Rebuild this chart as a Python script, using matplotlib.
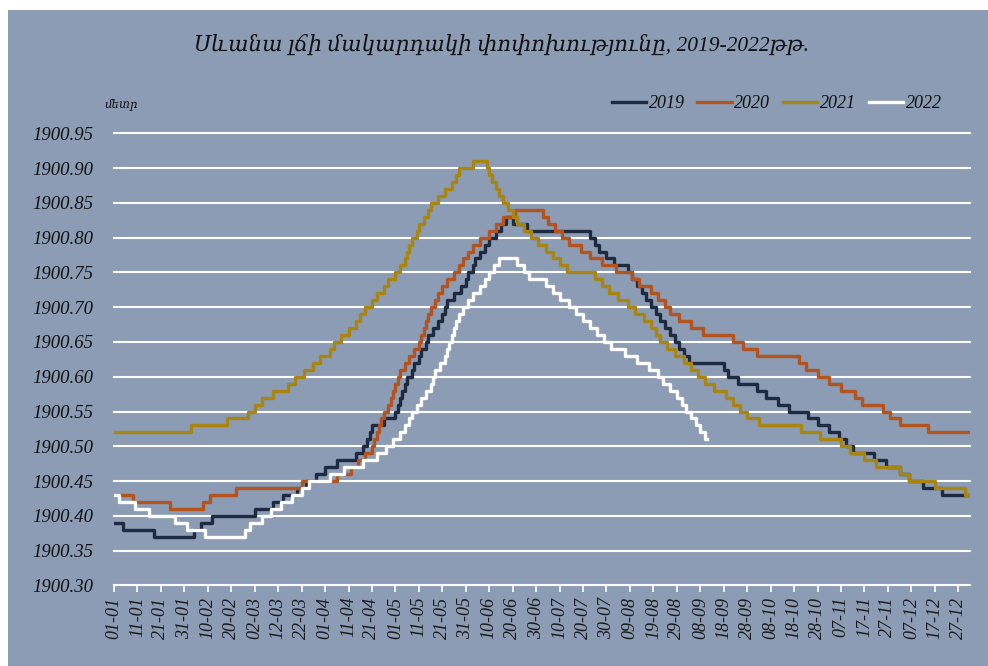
import matplotlib
matplotlib.use('Agg')
import matplotlib.pyplot as plt
from matplotlib.patches import Rectangle

# ---------------- data (change points, step series) ----------------
days_2019 = [0, 4, 17, 34, 37, 42, 60, 68, 72, 78, 82, 86, 90, 95, 103, 106, 108, 109, 110, 115,
             120, 121, 122, 123, 124, 125, 127, 128, 130, 131, 133, 134, 136, 138, 140, 141, 142, 145,
             148, 150, 151, 153, 154, 156, 158, 160, 163, 165, 167, 170, 176, 203, 205, 207, 210, 213,
             219, 221, 223, 225, 227, 229, 231, 233, 235, 237, 239, 241, 243, 245, 260, 262, 266, 274,
             278, 283, 288, 296, 300, 305, 309, 312, 315, 324, 329, 335, 339, 345, 353, 364]
vals_2019 = [1900.39, 1900.38, 1900.37, 1900.38, 1900.39, 1900.40, 1900.41, 1900.42, 1900.43, 1900.44,
             1900.45, 1900.46, 1900.47, 1900.48, 1900.49, 1900.50, 1900.51, 1900.52, 1900.53, 1900.54,
             1900.55, 1900.56, 1900.57, 1900.58, 1900.59, 1900.60, 1900.61, 1900.62, 1900.63, 1900.64,
             1900.65, 1900.66, 1900.67, 1900.68, 1900.69, 1900.70, 1900.71, 1900.72, 1900.73, 1900.74,
             1900.75, 1900.76, 1900.77, 1900.78, 1900.79, 1900.80, 1900.81, 1900.82, 1900.83, 1900.82,
             1900.81, 1900.80, 1900.79, 1900.78, 1900.77, 1900.76, 1900.75, 1900.74, 1900.73, 1900.72,
             1900.71, 1900.70, 1900.69, 1900.68, 1900.67, 1900.66, 1900.65, 1900.64, 1900.63, 1900.62,
             1900.61, 1900.60, 1900.59, 1900.58, 1900.57, 1900.56, 1900.55, 1900.54, 1900.53, 1900.52,
             1900.51, 1900.50, 1900.49, 1900.48, 1900.47, 1900.46, 1900.45, 1900.44, 1900.43, 1900.43]

days_2020 = [0, 8, 24, 38, 41, 52, 80, 95, 101, 104, 107, 110, 111, 112, 113, 114, 115, 117, 118, 119,
             120, 121, 122, 124, 126, 128, 130, 131, 132, 133, 134, 135, 137, 138, 140, 142, 145, 147,
             149, 151, 153, 156, 160, 163, 166, 171, 183, 185, 188, 191, 194, 199, 203, 208, 214, 221,
             224, 229, 232, 235, 237, 241, 246, 251, 264, 268, 274, 292, 295, 300, 305, 310, 316, 319,
             328, 331, 335, 347, 364]
vals_2020 = [1900.43, 1900.42, 1900.41, 1900.42, 1900.43, 1900.44, 1900.45, 1900.46, 1900.47, 1900.48,
             1900.49, 1900.50, 1900.51, 1900.52, 1900.53, 1900.54, 1900.55, 1900.56, 1900.57, 1900.58,
             1900.59, 1900.60, 1900.61, 1900.62, 1900.63, 1900.64, 1900.65, 1900.66, 1900.67, 1900.68,
             1900.69, 1900.70, 1900.71, 1900.72, 1900.73, 1900.74, 1900.75, 1900.76, 1900.77, 1900.78,
             1900.79, 1900.80, 1900.81, 1900.82, 1900.83, 1900.84, 1900.83, 1900.82, 1900.81, 1900.80,
             1900.79, 1900.78, 1900.77, 1900.76, 1900.75, 1900.74, 1900.73, 1900.72, 1900.71, 1900.70,
             1900.69, 1900.68, 1900.67, 1900.66, 1900.65, 1900.64, 1900.63, 1900.62, 1900.61, 1900.60,
             1900.59, 1900.58, 1900.57, 1900.56, 1900.55, 1900.54, 1900.53, 1900.52, 1900.52]

days_2021 = [0, 33, 48, 57, 60, 63, 68, 74, 77, 81, 85, 88, 92, 94, 97, 100, 103, 105, 107, 110, 112,
             115, 117, 120, 122, 124, 125, 126, 127, 129, 130, 132, 134, 135, 138, 141, 144, 146, 147,
             153, 159, 160, 161, 163, 164, 166, 168, 170, 172, 175, 178, 181, 184, 187, 190, 193, 205,
             208, 211, 215, 219, 222, 226, 229, 231, 233, 236, 239, 243, 246, 249, 252, 256, 261, 264,
             267, 270, 275, 293, 301, 310, 314, 320, 325, 335, 339, 350, 363, 364]
vals_2021 = [1900.52, 1900.53, 1900.54, 1900.55, 1900.56, 1900.57, 1900.58, 1900.59, 1900.60, 1900.61,
             1900.62, 1900.63, 1900.64, 1900.65, 1900.66, 1900.67, 1900.68, 1900.69, 1900.70, 1900.71,
             1900.72, 1900.73, 1900.74, 1900.75, 1900.76, 1900.77, 1900.78, 1900.79, 1900.80, 1900.81,
             1900.82, 1900.83, 1900.84, 1900.85, 1900.86, 1900.87, 1900.88, 1900.89, 1900.90, 1900.91,
             1900.90, 1900.89, 1900.88, 1900.87, 1900.86, 1900.85, 1900.84, 1900.83, 1900.82, 1900.81,
             1900.80, 1900.79, 1900.78, 1900.77, 1900.76, 1900.75, 1900.74, 1900.73, 1900.72, 1900.71,
             1900.70, 1900.69, 1900.68, 1900.67, 1900.66, 1900.65, 1900.64, 1900.63, 1900.62, 1900.61,
             1900.60, 1900.59, 1900.58, 1900.57, 1900.56, 1900.55, 1900.54, 1900.53, 1900.52, 1900.51,
             1900.50, 1900.49, 1900.48, 1900.47, 1900.46, 1900.45, 1900.44, 1900.43, 1900.43]

days_2022 = [0, 2, 9, 15, 26, 31, 39, 56, 58, 63, 67, 71, 76, 80, 83, 92, 98, 106, 112, 116, 119, 122,
             124, 126, 127, 129, 131, 133, 135, 136, 137, 139, 141, 142, 143, 144, 145, 146, 147, 149,
             151, 153, 156, 158, 160, 162, 164, 172, 175, 177, 184, 187, 190, 194, 197, 200, 203, 206,
             209, 212, 218, 223, 228, 232, 234, 237, 240, 242, 244, 246, 248, 250, 252, 253]
vals_2022 = [1900.43, 1900.42, 1900.41, 1900.40, 1900.39, 1900.38, 1900.37, 1900.38, 1900.39, 1900.40,
             1900.41, 1900.42, 1900.43, 1900.44, 1900.45, 1900.46, 1900.47, 1900.48, 1900.49, 1900.50,
             1900.51, 1900.52, 1900.53, 1900.54, 1900.55, 1900.56, 1900.57, 1900.58, 1900.59, 1900.60,
             1900.61, 1900.62, 1900.63, 1900.64, 1900.65, 1900.66, 1900.67, 1900.68, 1900.69, 1900.70,
             1900.71, 1900.72, 1900.73, 1900.74, 1900.75, 1900.76, 1900.77, 1900.76, 1900.75, 1900.74,
             1900.73, 1900.72, 1900.71, 1900.70, 1900.69, 1900.68, 1900.67, 1900.66, 1900.65, 1900.64,
             1900.63, 1900.62, 1900.61, 1900.60, 1900.59, 1900.58, 1900.57, 1900.56, 1900.55, 1900.54,
             1900.53, 1900.52, 1900.51, 1900.51]

series_names = ['2019', '2020', '2021', '2022']
x_tick_days = list(range(0, 361, 10))
x_tick_labels = ['01-01', '11-01', '21-01', '31-01', '10-02', '20-02', '02-03', '12-03', '22-03',
                 '01-04', '11-04', '21-04', '01-05', '11-05', '21-05', '31-05', '10-06', '20-06',
                 '30-06', '10-07', '20-07', '30-07', '09-08', '19-08', '29-08', '08-09', '18-09',
                 '28-09', '08-10', '18-10', '28-10', '07-11', '17-11', '27-11', '07-12', '17-12',
                 '27-12']
y_ticks = [1900.30, 1900.35, 1900.40, 1900.45, 1900.50, 1900.55, 1900.60, 1900.65,
           1900.70, 1900.75, 1900.80, 1900.85, 1900.90, 1900.95]

title_text = 'Սևանա լճի մակարդակի փոփոխությունը, 2019-2022թթ.'
unit_text = 'մետր'

# ---------------- styling ----------------
BG = '#8b9cb4'
colors = ['#1e2a3f', '#b4531d', '#a88510', '#ffffff']
FONT = ['Liberation Serif', 'DejaVu Serif']

W, H = 988, 666
fig = plt.figure(figsize=(W / 100, H / 100), dpi=100)
fig.patch.set_facecolor('white')
fig.add_artist(Rectangle((8 / W, 0), 1 - 8 / W, 1 - 10 / H, transform=fig.transFigure,
                         facecolor=BG, edgecolor='none', zorder=0))

ax_l, ax_r = 114 / W, 970 / W
ax_b, ax_t = 1 - 585.4 / H, 1 - 133.3 / H
ax = fig.add_axes([ax_l, ax_b, ax_r - ax_l, ax_t - ax_b])
ax.set_facecolor('none')

series = [(days_2019, vals_2019), (days_2020, vals_2020), (days_2021, vals_2021), (days_2022, vals_2022)]
for (d, v), name, c in zip(series, series_names, colors):
    ax.step(d, v, where='post', color=c, lw=2.4, label=name, zorder=3)

ax.set_xlim(0, 365)
ax.set_ylim(1900.30, 1900.95)
ax.set_yticks(y_ticks)
ax.set_yticklabels([f'{t:.2f}' for t in y_ticks], family=FONT, style='italic', fontsize=13.5,
                   color='#111111')
ax.set_xticks(x_tick_days)
ax.set_xticklabels(x_tick_labels, rotation=90, family=FONT, style='italic', fontsize=13,
                   color='#1a1a1a')
ax.tick_params(axis='y', length=0, pad=15)
ax.tick_params(axis='x', length=5, width=1.2, color='white', direction='out', pad=3)

for y in y_ticks[1:]:
    ax.axhline(y, color='white', lw=1.5, zorder=1, clip_on=False)
for s in ['top', 'right', 'left']:
    ax.spines[s].set_visible(False)
ax.spines['bottom'].set_color('white')
ax.spines['bottom'].set_linewidth(1.5)

fig.text(0.508, 1 - 45 / H, title_text, ha='center', va='center', family=FONT, style='italic',
         fontsize=15.5, color='#111111')
fig.text(104 / W, 1 - 104 / H, unit_text, ha='left', va='center', family=FONT, style='italic',
         fontsize=8.5, color='#111111')

leg = ax.legend(loc='center right', bbox_to_anchor=(958 / W, 1 - 104 / H),
                bbox_transform=fig.transFigure, ncol=4, frameon=False, handlelength=1.9,
                handletextpad=0.15, columnspacing=0.7,
                prop={'family': FONT, 'style': 'italic', 'size': 13})
for t in leg.get_texts():
    t.set_color('#111111')

fig.savefig('out.png', dpi=100, facecolor=fig.get_facecolor())
